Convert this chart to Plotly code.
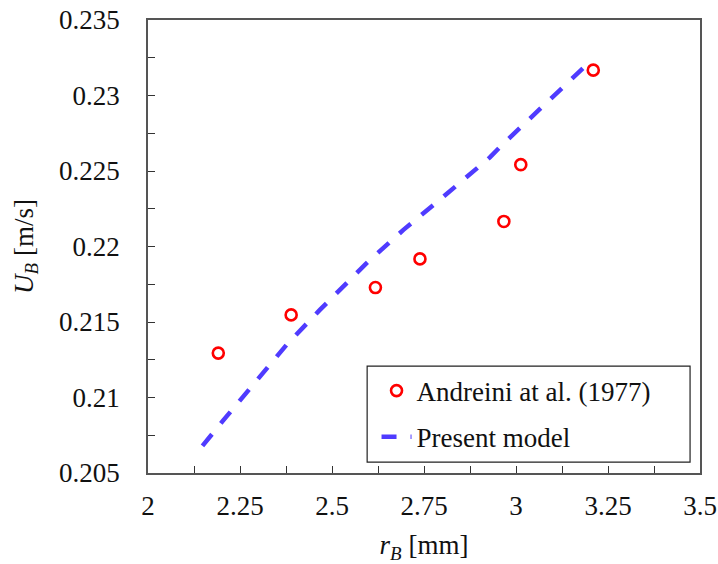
import plotly.graph_objects as go

# Experimental data: Andreini at al. (1977)
exp_r = [2.191, 2.389, 2.618, 2.739, 2.967, 3.013, 3.210]
exp_u = [0.21294, 0.21547, 0.21728, 0.21918, 0.22166, 0.22542, 0.23168]

# Present model curve
mod_r = [2.148, 2.205, 2.377, 2.467, 2.594, 2.694, 2.793, 2.929, 2.961, 3.186]
mod_u = [0.2068, 0.2085, 0.2135, 0.2158, 0.2189, 0.2211, 0.2231, 0.2259, 0.2267, 0.2319]

x_ticks = [2, 2.25, 2.5, 2.75, 3, 3.25, 3.5]
x_tick_labels = ["2", "2.25", "2.5", "2.75", "3", "3.25", "3.5"]
y_ticks = [0.205, 0.21, 0.215, 0.22, 0.225, 0.23, 0.235]
y_tick_labels = ["0.205", "0.21", "0.215", "0.22", "0.225", "0.23", "0.235"]

FONT = "Liberation Serif"
AX = "#555555"
TXT = "#111111"
FS = 27

fig = go.Figure()
fig.add_trace(go.Scatter(
    x=exp_r, y=exp_u, mode="markers", name="Andreini at al. (1977)",
    legendgroup="a",
    marker=dict(symbol="circle-open", size=11, color="#ff0000", line=dict(width=2.6, color="#ff0000")),
))
fig.add_trace(go.Scatter(
    x=mod_r, y=mod_u, mode="lines", name="Present model",
    legendgroup="b",
    line=dict(color="#4f3bff", width=4.5, dash="15px,14px"),
))

axis_common = dict(
    showline=True, linecolor=AX, linewidth=1.5, mirror=True,
    ticks="inside", ticklen=7, tickwidth=1.3, tickcolor="#333333",
    showgrid=False, zeroline=False, automargin=False,
    tickfont=dict(family=FONT, size=FS, color=TXT),
)

fig.update_xaxes(
    range=[2, 3.5], tickvals=x_ticks, ticktext=x_tick_labels,
    minor=dict(dtick=0.125, ticks="inside", ticklen=7, tickwidth=1.3, tickcolor="#333333", showgrid=False),
    title=dict(text="<i>r</i><sub><i>B</i></sub> [mm]", font=dict(family=FONT, size=FS, color=TXT), standoff=22),
    ticklabelstandoff=8,
    **axis_common,
)
fig.update_yaxes(
    range=[0.205, 0.235], tickvals=y_ticks, ticktext=y_tick_labels,
    minor=dict(dtick=0.0025, ticks="inside", ticklen=7, tickwidth=1.3, tickcolor="#333333", showgrid=False),
    title=dict(text="<i>U</i><sub><i>B</i></sub> [m/s]", font=dict(family=FONT, size=FS, color=TXT), standoff=18),
    ticklabelstandoff=21,
    **axis_common,
)

# legend frame
fig.add_shape(type="rect", xref="paper", yref="paper",
              x0=0.397, x1=0.982, y0=0.024, y1=0.236,
              line=dict(color="#222222", width=1.2), fillcolor="white", layer="above")

fig.update_layout(
    width=718, height=564,
    margin=dict(l=148, r=18, t=20, b=91),
    paper_bgcolor="white", plot_bgcolor="white",
    showlegend=True,
    legend=dict(
        x=0.414, y=0.235, xanchor="left", yanchor="top",
        bgcolor="rgba(0,0,0,0)", borderwidth=0,
        font=dict(family=FONT, size=FS, color=TXT),
        itemwidth=30, tracegroupgap=8,
    ),
)

fig.write_html("out.html")
